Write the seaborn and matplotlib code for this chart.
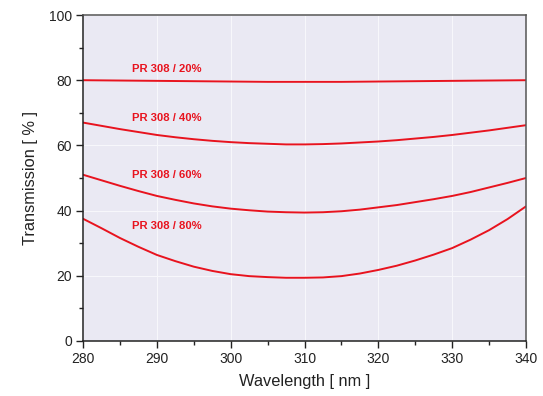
import matplotlib
matplotlib.use("Agg")
import matplotlib.pyplot as plt
from matplotlib.ticker import MultipleLocator
import seaborn as sns
import pandas as pd

wavelength = [280, 282.5, 285, 287.5, 290, 292.5, 295, 297.5, 300, 302.5, 305, 307.5,
              310, 312.5, 315, 317.5, 320, 322.5, 325, 327.5, 330, 332.5, 335, 337.5, 340]
pr20 = [80.0, 79.95, 79.9, 79.85, 79.8, 79.75, 79.7, 79.65, 79.6, 79.55, 79.5, 79.5,
        79.5, 79.5, 79.5, 79.55, 79.6, 79.65, 79.7, 79.75, 79.8, 79.85, 79.9, 79.95, 80.0]
pr40 = [67.0, 66.0, 65.0, 64.1, 63.2, 62.5, 61.9, 61.4, 61.0, 60.7, 60.5, 60.3,
        60.3, 60.4, 60.6, 60.9, 61.2, 61.6, 62.1, 62.6, 63.2, 63.9, 64.6, 65.4, 66.2]
pr60 = [51.0, 49.3, 47.6, 46.0, 44.5, 43.3, 42.2, 41.3, 40.6, 40.1, 39.7, 39.5,
        39.4, 39.5, 39.8, 40.3, 41.0, 41.7, 42.6, 43.5, 44.5, 45.7, 47.1, 48.5, 50.0]
pr80 = [37.5, 34.6, 31.6, 28.9, 26.4, 24.5, 22.8, 21.5, 20.5, 19.9, 19.6, 19.4,
        19.4, 19.5, 19.9, 20.7, 21.8, 23.1, 24.7, 26.5, 28.5, 31.1, 34.0, 37.4, 41.3]
series_labels = ["PR 308 / 20%", "PR 308 / 40%", "PR 308 / 60%", "PR 308 / 80%"]
label_x = [286.6, 286.6, 286.6, 286.6]
label_y = [83.3, 68.5, 50.8, 35.2]

rows = []
for name, vals in zip(series_labels, [pr20, pr40, pr60, pr80]):
    for w, v in zip(wavelength, vals):
        rows.append({"Wavelength": w, "Transmission": v, "Series": name})
df = pd.DataFrame(rows)

sns.set_theme(style="darkgrid", rc={
    "axes.facecolor": "#EAE9F3",
    "grid.color": "#F7F7FB",
    "grid.linewidth": 0.8,
})
plt.rcParams["font.family"] = ["Liberation Sans", "DejaVu Sans"]

RED = "#E8131E"
fig = plt.figure(figsize=(5.43, 3.96), dpi=100)
ax = fig.add_axes([0.1529, 0.1389, 0.9687 - 0.1529, 0.9621 - 0.1389])

sns.lineplot(data=df, x="Wavelength", y="Transmission", hue="Series",
             palette=[RED] * 4, linewidth=1.4, legend=False, ax=ax,
             estimator=None, sort=True)

for t, x, y in zip(series_labels, label_x, label_y):
    ax.text(x, y, t, color=RED, fontsize=8.1, fontweight="bold",
            ha="left", va="center")

ax.set_xlim(280, 340)
ax.set_ylim(0, 100)
ax.xaxis.set_major_locator(MultipleLocator(10))
ax.xaxis.set_minor_locator(MultipleLocator(5))
ax.yaxis.set_major_locator(MultipleLocator(20))
ax.yaxis.set_minor_locator(MultipleLocator(10))
ax.grid(True, which="major")
ax.grid(False, which="minor")

for s in ax.spines.values():
    s.set_visible(True)
    s.set_color("#222222")
    s.set_linewidth(1.1)
ax.spines["top"].set_color("#555555")
ax.spines["right"].set_color("#555555")

ax.tick_params(axis="both", which="major", direction="out", length=5, width=1,
               color="#222222", labelsize=10, labelcolor="#222222", pad=3,
               bottom=True, left=True)
ax.tick_params(axis="both", which="minor", direction="out", length=3, width=1,
               color="#222222", bottom=True, left=True)

ax.set_xlabel("Wavelength [ nm ]", fontsize=11.8, color="#222222", labelpad=6)
ax.set_ylabel("Transmission [ % ]", fontsize=11.8, color="#222222", labelpad=8)

fig.savefig("out.png", dpi=100)
